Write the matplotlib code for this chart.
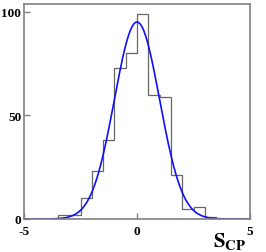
import numpy as np
import matplotlib
matplotlib.use("Agg")
import matplotlib.pyplot as plt

# histogram of S_CP, bins of 0.5 from -5 to 5
bin_edges = [-5.0, -4.5, -4.0, -3.5, -3.0, -2.5, -2.0, -1.5, -1.0, -0.5, 0.0,
             0.5, 1.0, 1.5, 2.0, 2.5, 3.0, 3.5, 4.0, 4.5, 5.0]
counts = [0, 0, 0, 2, 2, 10, 23, 38, 73, 80, 99, 60, 59, 21, 5, 6, 1, 0, 0, 0]

# gaussian fit parameters
fit_amp = 95.0
fit_mean = 0.0
fit_sigma = 1.0

x_ticks = [-5, 0, 5]
y_ticks = [0, 50, 100]

plt.rcParams["mathtext.fontset"] = "stix"
plt.rcParams["font.family"] = ["Liberation Serif", "DejaVu Serif"]
plt.rcParams["font.weight"] = "bold"

fig = plt.figure(figsize=(2.66, 2.53), dpi=100)
ax = fig.add_axes([24 / 266, 33 / 253, 226 / 266, 215 / 253])

frame_col = "#808080"
ax.stairs(counts, bin_edges, color="#666666", lw=0.9)

xs = np.linspace(-5, 5, 400)
ax.plot(xs, fit_amp * np.exp(-0.5 * ((xs - fit_mean) / fit_sigma) ** 2),
        color="#1010ff", lw=1.2)

ax.set_xlim(-5, 5)
ax.set_ylim(0, 103.7)
ax.set_xticks(x_ticks)
ax.set_yticks(y_ticks)
ax.set_xticklabels(["-5", "0", "5"])
ax.set_yticklabels(["0", "50", "100"])
ax.tick_params(direction="in", length=4.5, width=1, color=frame_col,
               labelsize=9.5, pad=2)
ax.tick_params(axis="x", pad=4)
for lab in ax.get_xticklabels() + ax.get_yticklabels():
    lab.set_fontweight("bold")
for sp in ax.spines.values():
    sp.set_color(frame_col)
    sp.set_linewidth(1.2)

ax.text(0.985, -0.05, r"$\mathbf{S}_{\mathbf{CP}}$", transform=ax.transAxes,
        ha="right", va="top", fontsize=15)

fig.savefig("out.png", dpi=100)
